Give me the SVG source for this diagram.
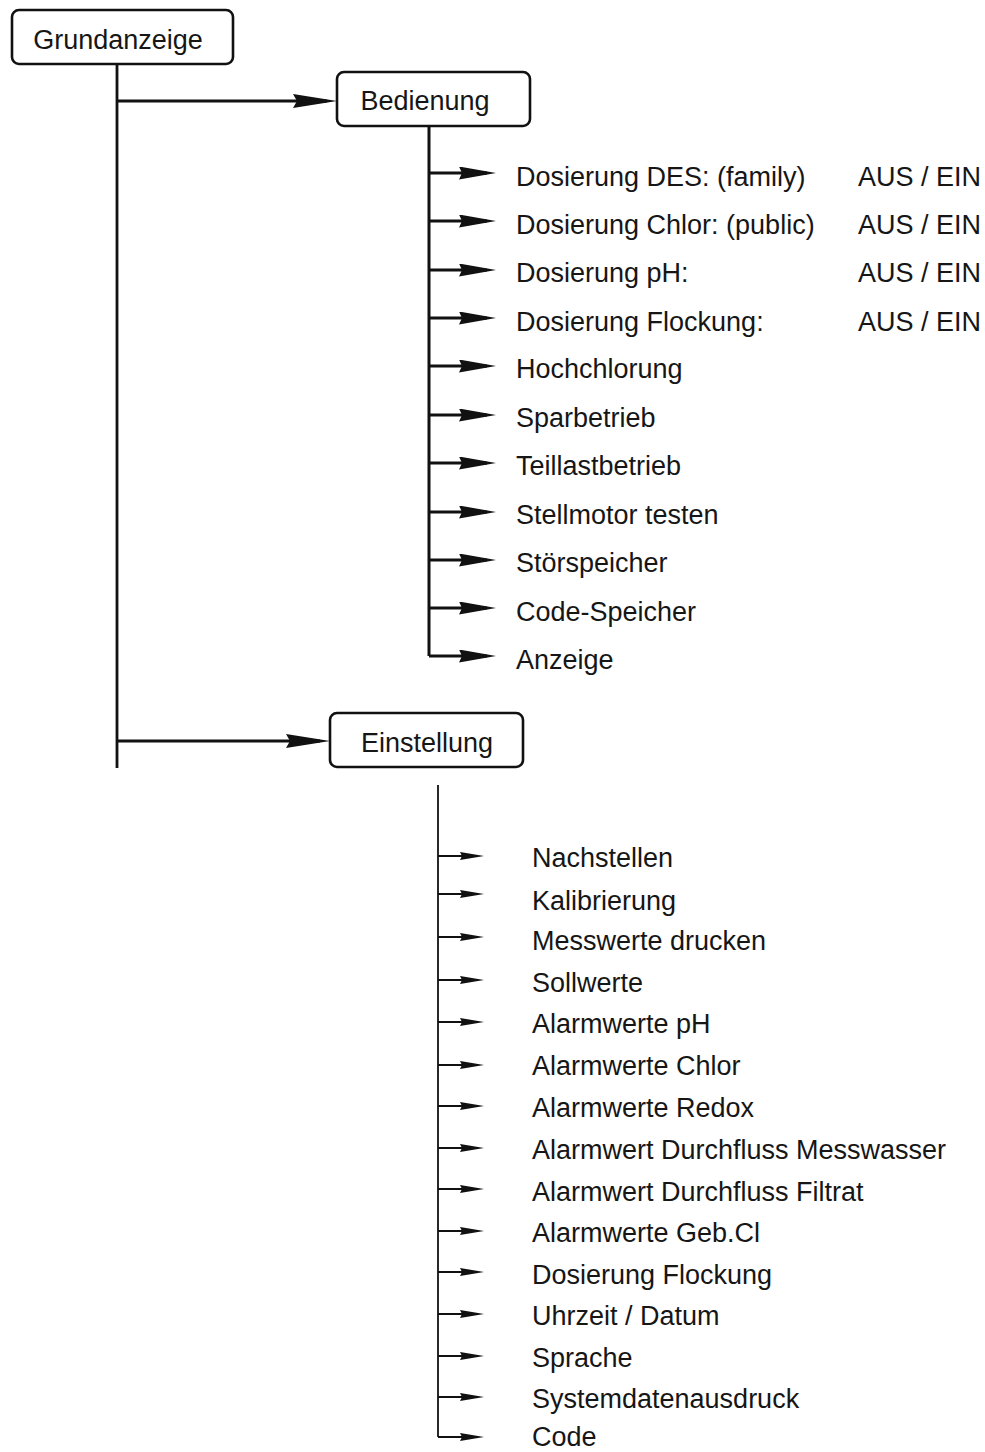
<svg xmlns="http://www.w3.org/2000/svg" width="985" height="1452" viewBox="0 0 985 1452">
<style>
.box{fill:#fff;stroke:#111;stroke-width:2.6}
.t{font-family:"Liberation Sans",Arial,sans-serif;font-size:27px;fill:#161616}
.tc{text-anchor:middle}
.main{stroke:#111;stroke-width:2.8;fill:none}
.sub{stroke:#111;stroke-width:3;fill:none}
.low{stroke:#111;stroke-width:1.8;fill:none}
</style>
<defs>
<marker id="mBig" markerUnits="userSpaceOnUse" markerWidth="44" markerHeight="14" refX="34" refY="7" orient="auto"><path d="M0,0 L44,7 L0,14 L4,7 Z" fill="#111"/></marker>
<marker id="mMid" markerUnits="userSpaceOnUse" markerWidth="38" markerHeight="13" refX="28" refY="6.5" orient="auto"><path d="M0,0 L37,6.5 L0,13 L3,6.5 Z" fill="#111"/></marker>
<marker id="mSmall" markerUnits="userSpaceOnUse" markerWidth="24" markerHeight="8" refX="14" refY="4" orient="auto"><path d="M0,0 L24,4 L0,8 L2,4 Z" fill="#111"/></marker>
</defs>

<g id="connectors">
<path class="main" d="M117,64 V768"/>
<path class="main" d="M117,101 H327" marker-end="url(#mBig)"/>
<path class="main" d="M117,741 H320" marker-end="url(#mBig)"/>
<path class="sub" d="M429,126 V656"/>
<path class="sub" d="M429,173 H487" marker-end="url(#mMid)"/>
<path class="sub" d="M429,221 H487" marker-end="url(#mMid)"/>
<path class="sub" d="M429,270 H487" marker-end="url(#mMid)"/>
<path class="sub" d="M429,318 H487" marker-end="url(#mMid)"/>
<path class="sub" d="M429,366 H487" marker-end="url(#mMid)"/>
<path class="sub" d="M429,415 H487" marker-end="url(#mMid)"/>
<path class="sub" d="M429,463 H487" marker-end="url(#mMid)"/>
<path class="sub" d="M429,512 H487" marker-end="url(#mMid)"/>
<path class="sub" d="M429,560 H487" marker-end="url(#mMid)"/>
<path class="sub" d="M429,608 H487" marker-end="url(#mMid)"/>
<path class="sub" d="M429,656 H487" marker-end="url(#mMid)"/>
<path class="low" d="M438,785 V1437"/>
<path class="low" d="M438,856 H474" marker-end="url(#mSmall)"/>
<path class="low" d="M438,894 H474" marker-end="url(#mSmall)"/>
<path class="low" d="M438,937 H474" marker-end="url(#mSmall)"/>
<path class="low" d="M438,980 H474" marker-end="url(#mSmall)"/>
<path class="low" d="M438,1022 H474" marker-end="url(#mSmall)"/>
<path class="low" d="M438,1065 H474" marker-end="url(#mSmall)"/>
<path class="low" d="M438,1106 H474" marker-end="url(#mSmall)"/>
<path class="low" d="M438,1148 H474" marker-end="url(#mSmall)"/>
<path class="low" d="M438,1189 H474" marker-end="url(#mSmall)"/>
<path class="low" d="M438,1231 H474" marker-end="url(#mSmall)"/>
<path class="low" d="M438,1272 H474" marker-end="url(#mSmall)"/>
<path class="low" d="M438,1314 H474" marker-end="url(#mSmall)"/>
<path class="low" d="M438,1356 H474" marker-end="url(#mSmall)"/>
<path class="low" d="M438,1397 H474" marker-end="url(#mSmall)"/>
<path class="low" d="M438,1437 H474" marker-end="url(#mSmall)"/>
</g>

<g id="grundanzeige"><rect class="box" x="12" y="10" width="221" height="54" rx="7"/><text class="t tc" x="118" y="49">Grundanzeige</text></g>
<g id="bedienung"><rect class="box" x="337" y="72" width="193" height="54" rx="7"/><text class="t tc" x="425" y="110">Bedienung</text></g>
<g id="einstellung"><rect class="box" x="330" y="713" width="193" height="54" rx="7"/><text class="t tc" x="427" y="752">Einstellung</text></g>

<g id="bedienung-items">
<g id="b1"><text class="t" x="516" y="186">Dosierung DES: (family)</text><text class="t" x="858" y="186">AUS / EIN</text></g>
<g id="b2"><text class="t" x="516" y="234">Dosierung Chlor: (public)</text><text class="t" x="858" y="234">AUS / EIN</text></g>
<g id="b3"><text class="t" x="516" y="282">Dosierung pH:</text><text class="t" x="858" y="282">AUS / EIN</text></g>
<g id="b4"><text class="t" x="516" y="331">Dosierung Flockung:</text><text class="t" x="858" y="331">AUS / EIN</text></g>
<g id="b5"><text class="t" x="516" y="378">Hochchlorung</text></g>
<g id="b6"><text class="t" x="516" y="427">Sparbetrieb</text></g>
<g id="b7"><text class="t" x="516" y="475">Teillastbetrieb</text></g>
<g id="b8"><text class="t" x="516" y="524">Stellmotor testen</text></g>
<g id="b9"><text class="t" x="516" y="572">Störspeicher</text></g>
<g id="b10"><text class="t" x="516" y="621">Code-Speicher</text></g>
<g id="b11"><text class="t" x="516" y="669">Anzeige</text></g>
</g>

<g id="einstellung-items">
<g id="e1"><text class="t" x="532" y="867">Nachstellen</text></g>
<g id="e2"><text class="t" x="532" y="910">Kalibrierung</text></g>
<g id="e3"><text class="t" x="532" y="950">Messwerte drucken</text></g>
<g id="e4"><text class="t" x="532" y="992">Sollwerte</text></g>
<g id="e5"><text class="t" x="532" y="1033">Alarmwerte pH</text></g>
<g id="e6"><text class="t" x="532" y="1075">Alarmwerte Chlor</text></g>
<g id="e7"><text class="t" x="532" y="1117">Alarmwerte Redox</text></g>
<g id="e8"><text class="t" x="532" y="1159">Alarmwert Durchfluss Messwasser</text></g>
<g id="e9"><text class="t" x="532" y="1201">Alarmwert Durchfluss Filtrat</text></g>
<g id="e10"><text class="t" x="532" y="1242">Alarmwerte Geb.Cl</text></g>
<g id="e11"><text class="t" x="532" y="1284">Dosierung Flockung</text></g>
<g id="e12"><text class="t" x="532" y="1325">Uhrzeit / Datum</text></g>
<g id="e13"><text class="t" x="532" y="1367">Sprache</text></g>
<g id="e14"><text class="t" x="532" y="1408">Systemdatenausdruck</text></g>
<g id="e15"><text class="t" x="532" y="1446">Code</text></g>
</g>
</svg>
